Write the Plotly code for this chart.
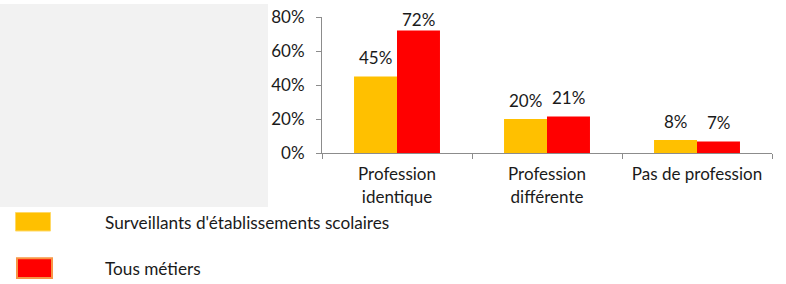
import plotly.graph_objects as go

categories = ["Profession<br>identique", "Profession<br>différente", "Pas de profession"]
series_names = ["Surveillants d'établissements scolaires", "Tous métiers"]
surveillants = [0.45, 0.20, 0.076]
tous_metiers = [0.72, 0.214, 0.067]
y_ticks = [0, 0.2, 0.4, 0.6, 0.8]
y_tick_labels = ["0%", "20%", "40%", "60%", "80%"]

colors = ["#FFC000", "#FF0000"]
W, H = 786, 284
L, R, T, B = 322, 14, 17, 131
PW, PH = W - L - R, H - T - B
FONT = "Lato"
FS = 17
TXT = "#1a1a1a"

def px_x(p):
    return (p - L) / PW

def px_y(p):
    return (H - B - p) / PH

fig = go.Figure()
for name, vals, col in zip(series_names, [surveillants, tous_metiers], colors):
    fig.add_trace(go.Bar(x=categories, y=vals, name=name, marker=dict(color=col, line=dict(width=0)),
                         showlegend=False, offsetgroup=name, hoverinfo="skip"))

# data labels
ann = []
for i, (vals, off) in enumerate([(surveillants, -0.5), (tous_metiers, 0.5)]):
    for j, v in enumerate(vals):
        ann.append(dict(x=categories[j], y=min(v + 0.11, 0.786), xref="x", yref="y",
                        text=f"{round(v*100):d}%", showarrow=False, xshift=off * 43,
                        yanchor="middle", font=dict(family=FONT, size=FS, color=TXT)))

# legend (manual)
shapes = [
    dict(type="rect", xref="paper", yref="paper", x0=px_x(0), x1=px_x(268), y0=px_y(207), y1=px_y(4),
         fillcolor="#F2F2F2", line=dict(width=0), layer="below"),
    dict(type="rect", xref="paper", yref="paper", x0=px_x(15.5), x1=px_x(50.5), y0=px_y(231), y1=px_y(212.5),
         fillcolor=colors[0], line=dict(color="#FFD966", width=1)),
    dict(type="rect", xref="paper", yref="paper", x0=px_x(17), x1=px_x(52), y0=px_y(278), y1=px_y(258.3),
         fillcolor=colors[1], line=dict(color="#F79646", width=2)),
]
for name, cy in zip(series_names, [222, 268]):
    ann.append(dict(x=px_x(103), y=px_y(cy), xref="paper", yref="paper", text=name, showarrow=False,
                    xanchor="left", yanchor="middle", font=dict(family=FONT, size=17.2, color=TXT)))

fig.update_layout(
    width=W, height=H, margin=dict(l=L, r=R, t=T, b=B, pad=0, autoexpand=False),
    paper_bgcolor="white", plot_bgcolor="white", showlegend=False,
    barmode="group", bargap=0.427, bargroupgap=0,
    font=dict(family=FONT, size=FS, color=TXT),
    shapes=shapes, annotations=ann,
    xaxis=dict(showline=True, linecolor="#8C8C8C", linewidth=1, ticks="outside", tickson="boundaries",
               ticklen=5, tickcolor="#8C8C8C", showgrid=False, tickfont=dict(family=FONT, size=FS, color=TXT),
               ticklabelstandoff=6, fixedrange=True, automargin=False),
    yaxis=dict(range=[0, 0.8], tickvals=y_ticks, ticktext=y_tick_labels, showline=True, linecolor="#8C8C8C",
               linewidth=1, ticks="outside", ticklen=5, tickcolor="#8C8C8C", showgrid=False, zeroline=False,
               tickfont=dict(family=FONT, size=FS, color=TXT), ticklabelstandoff=8, fixedrange=True,
               automargin=False),
)
fig.write_html("out.html", config={"displayModeBar": False, "staticPlot": True},
               post_script="document.body.style.margin='0';document.body.style.overflow='hidden';")
